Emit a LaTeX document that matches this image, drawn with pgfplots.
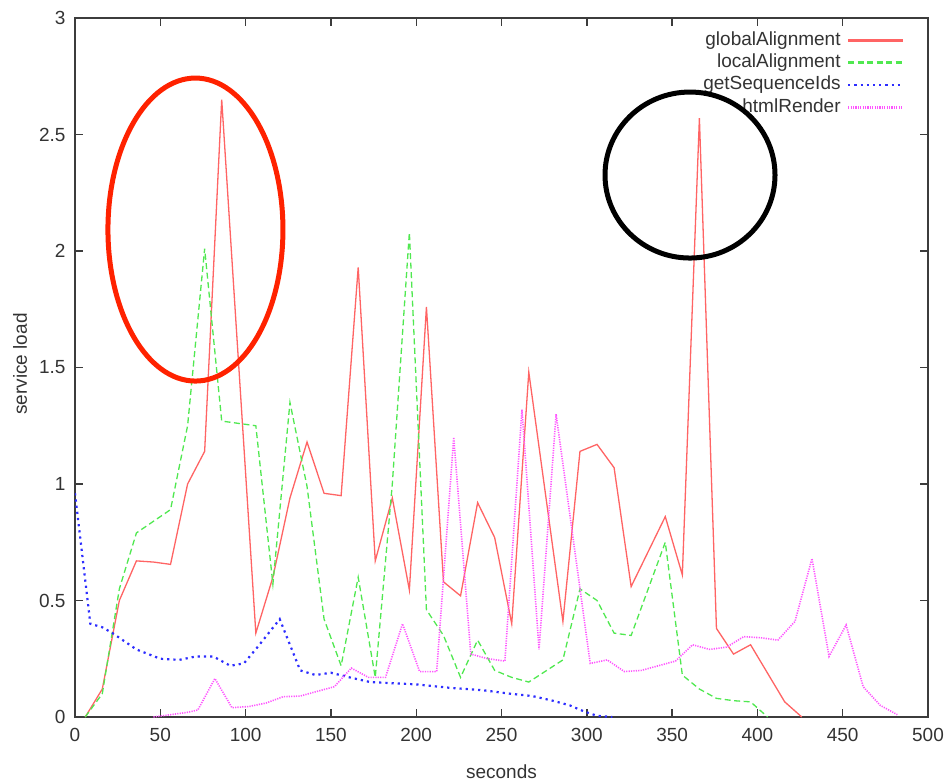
\documentclass[border=0pt]{standalone}
\usepackage{fontspec}
\setmainfont{Liberation Sans}
\usepackage{pgfplots}
\pgfplotsset{compat=1.18}

\definecolor{gacol}{RGB}{255,100,100}
\definecolor{lacol}{RGB}{80,232,80}
\definecolor{gscol}{RGB}{45,45,255}
\definecolor{hrcol}{RGB}{255,85,255}
\definecolor{ringred}{RGB}{255,34,0}
\definecolor{axcol}{RGB}{60,60,60}

\tikzset{
  gastyle/.style={color=gacol, line width=1.3bp},
  lastyle/.style={color=lacol, line width=1.3bp, dash pattern=on 6bp off 3.5bp},
  gsstyle/.style={color=gscol, line width=2.2bp, dash pattern=on 2.2bp off 4bp},
  hrstyle/.style={color=hrcol, line width=1.6bp, dash pattern=on 1.2bp off 1.2bp},
}

\begin{document}
\begin{tikzpicture}
\path[use as bounding box] (-75bp,-64bp) rectangle (874bp,717bp);
\begin{axis}[
  at={(0,0)}, anchor=south west,
  scale only axis, width=853bp, height=699bp,
  xmin=0, xmax=500, ymin=0, ymax=3,
  xtick={0,50,100,150,200,250,300,350,400,450,500},
  ytick={0,0.5,1,1.5,2,2.5,3},
  tick align=inside,
  major tick length=8bp,
  axis line style={draw=axcol, line width=1.6bp},
  every tick/.style={draw=axcol, line width=1.4bp},
  font=\fontsize{19bp}{22bp}\selectfont,
  /pgf/number format/assume math mode=true,
  tick label style={text=black!80},
  xticklabel style={yshift=-8bp},
  yticklabel style={xshift=-6bp},
  xlabel={seconds},
  ylabel={service load},
  xlabel style={at={(axis description cs:0.5,-0.0787)}, anchor=center, text=black!80},
  ylabel style={at={(axis description cs:-0.0645,0.505)}, anchor=center, text=black!80},
  legend plot pos=right,
  legend cell align=right,
  legend image code/.code={\draw[#1] (0bp,0bp) -- (55bp,0bp);},
  legend style={draw=none, fill=none,
    at={(axis description cs:1,1)}, anchor=north east,
    xshift=-20bp, yshift=-9bp,
    font=\fontsize{19bp}{22bp}\selectfont,
    nodes={text height=14bp, text depth=4.3bp, inner sep=2bp, text=black!80},
    column sep=4bp, row sep=0bp},
]
\addlegendimage{color=gacol, line width=3.2bp}
\addlegendentry{globalAlignment}
\addlegendimage{color=lacol, line width=2.4bp, dash pattern=on 6bp off 3.5bp}
\addlegendentry{localAlignment}
\addlegendimage{gsstyle}
\addlegendentry{getSequenceIds}
\addlegendimage{color=hrcol, line width=2.6bp, dash pattern=on 1.2bp off 1.2bp}
\addlegendentry{htmlRender}
% globalAlignment
\addplot[gastyle, forget plot] coordinates {
  (6,0) (16,0.12) (26,0.5) (36,0.67) (46,0.665) (56,0.655) (66,1.0) (76,1.14)
  (86,2.65) (106,0.36) (116,0.6) (126,0.94) (136,1.18) (146,0.96) (156,0.95)
  (166,1.93) (176,0.67) (186,0.94) (196,0.545) (206,1.76) (216,0.58) (226,0.52)
  (236,0.92) (246,0.77) (256,0.40) (266,1.48) (286,0.41) (296,1.14) (306,1.17)
  (316,1.07) (326,0.56) (346,0.86) (356,0.61) (366,2.57) (376,0.38) (386,0.27)
  (396,0.31) (416,0.065) (426,0)
};
% localAlignment
\addplot[lastyle, forget plot] coordinates {
  (6,0) (16,0.1) (26,0.55) (36,0.79) (46,0.84) (56,0.89) (66,1.25) (76,2.01)
  (86,1.27) (96,1.26) (106,1.25) (116,0.57) (126,1.35) (136,0.99) (146,0.42)
  (156,0.22) (166,0.60) (176,0.17) (186,1.0) (196,2.08) (206,0.46) (216,0.35)
  (226,0.17) (236,0.33) (246,0.20) (256,0.17) (266,0.15) (286,0.245) (296,0.55)
  (306,0.50) (316,0.36) (326,0.35) (346,0.75) (356,0.18) (366,0.12) (376,0.08)
  (386,0.07) (396,0.065) (406,0)
};
% getSequenceIds
\addplot[gsstyle, forget plot] coordinates {
  (0,0.96) (9,0.40) (16,0.385) (22,0.36) (36,0.29) (50,0.25) (61,0.245)
  (71,0.26) (81,0.26) (91,0.22) (99,0.23) (107,0.30) (120,0.42) (132,0.20)
  (141,0.18) (150,0.19) (161,0.17) (173,0.15) (186,0.145) (200,0.14) (220,0.125)
  (239,0.115) (255,0.10) (268,0.09) (280,0.07) (290,0.05) (298,0.025)
  (306,0.005) (315,0)
};
% htmlRender
\addplot[hrstyle, forget plot] coordinates {
  (46,0) (56,0.01) (66,0.02) (72,0.03) (82,0.165) (92,0.04) (102,0.045)
  (112,0.06) (122,0.087) (132,0.09) (142,0.11) (152,0.13) (162,0.21) (172,0.17)
  (182,0.17) (192,0.40) (202,0.195) (212,0.195) (222,1.20) (232,0.27) (242,0.25)
  (252,0.24) (262,1.32) (272,0.29) (282,1.30) (302,0.23) (312,0.245) (322,0.195)
  (332,0.20) (342,0.22) (352,0.24) (362,0.31) (372,0.29) (382,0.30) (392,0.345)
  (402,0.34) (412,0.33) (422,0.41) (432,0.68) (442,0.26) (452,0.395) (462,0.13)
  (472,0.05) (482,0.01)
};
\coordinate (redring) at (axis cs:70.6,2.092);
\coordinate (blackring) at (axis cs:360.5,2.326);
\end{axis}
% highlighted peaks
\draw[ringred, line width=5bp] (redring) ellipse [x radius=87.5bp, y radius=151.5bp];
\draw[black, line width=5bp] (blackring) ellipse [x radius=85bp, y radius=83bp];
\end{tikzpicture}
\end{document}
